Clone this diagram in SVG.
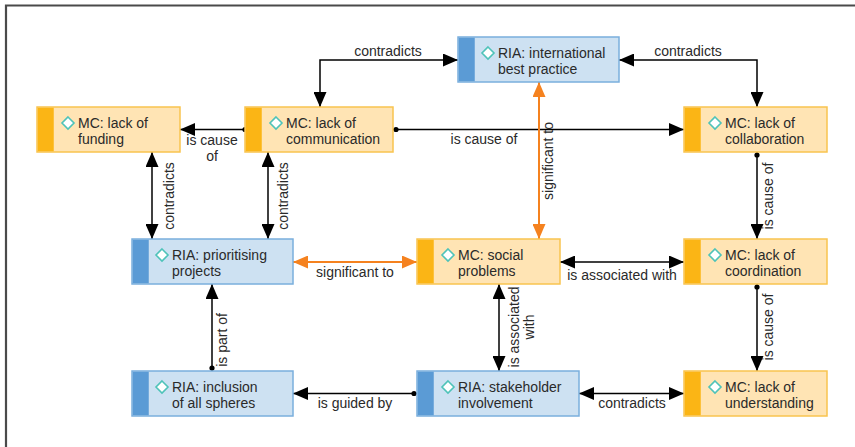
<svg xmlns="http://www.w3.org/2000/svg" width="855" height="447" viewBox="0 0 855 447">
  <style>
    text { font-family: "Liberation Sans", Arial, sans-serif; font-size: 14px; fill: #2a2a2a; }
    .lbl { text-anchor: middle; }
    .mc rect.body { fill: #ffe4b4; stroke: #f9c44f; stroke-width: 1.5; }
    .mc rect.bar { fill: #fbb515; }
    .ria rect.body { fill: #cde1f2; stroke: #7aafdd; stroke-width: 1.5; }
    .ria rect.bar { fill: #5b9bd5; }
    .icon { fill: #ffffff; stroke: #4fc3b9; stroke-width: 1.6; }
    .edge { fill: none; stroke: #000000; stroke-width: 1.5; }
    .sig { fill: none; stroke: #f5821f; stroke-width: 2; }
    .dot { fill: #000000; }
  </style>
  <defs>
    <marker id="arr" markerUnits="userSpaceOnUse" markerWidth="15" markerHeight="13" refX="15" refY="6.5" orient="auto-start-reverse">
      <path d="M0,0 L15,6.5 L0,13 z" fill="#000000"/>
    </marker>
    <marker id="arrO" markerUnits="userSpaceOnUse" markerWidth="15" markerHeight="13" refX="15" refY="6.5" orient="auto-start-reverse">
      <path d="M0,0 L15,6.5 L0,13 z" fill="#f5821f"/>
    </marker>
    <path id="dia" d="M0,-6 L6,0 L0,6 L-6,0 z"/>
  </defs>

  <rect width="855" height="447" fill="#ffffff"/>
  <!-- frame -->
  <path d="M6,447 V5.5 H855" fill="none" stroke="#4a4a4a" stroke-width="2.2"/>

  <!-- connectors -->
  <g id="connectors">
    <!-- contradicts: international best practice / communication -->
    <path class="edge" d="M320,107 V60 H458" marker-start="url(#arr)" marker-end="url(#arr)"/>
    <text class="lbl" x="388" y="56">contradicts</text>
    <!-- contradicts: international best practice / collaboration -->
    <path class="edge" d="M619,60 H757 V107" marker-start="url(#arr)" marker-end="url(#arr)"/>
    <text class="lbl" x="688" y="56">contradicts</text>
    <!-- communication is cause of funding -->
    <path class="edge" d="M245,129.5 H180" marker-end="url(#arr)"/>
    <circle class="dot" cx="245" cy="129.5" r="2.6"/>
    <text class="lbl" x="212" y="145">is cause</text>
    <text class="lbl" x="212" y="161">of</text>
    <!-- communication is cause of collaboration -->
    <path class="edge" d="M393,129.5 H684" marker-end="url(#arr)"/>
    <circle class="dot" cx="396" cy="129.5" r="2.6"/>
    <text class="lbl" x="484" y="144">is cause of</text>
    <!-- funding contradicts prioritising -->
    <path class="edge" d="M152,152 V239" marker-start="url(#arr)" marker-end="url(#arr)"/>
    <text class="lbl" transform="translate(174,196) rotate(-90)">contradicts</text>
    <!-- communication contradicts prioritising -->
    <path class="edge" d="M268,152 V239" marker-start="url(#arr)" marker-end="url(#arr)"/>
    <text class="lbl" transform="translate(288,196) rotate(-90)">contradicts</text>
    <!-- social problems significant to international best practice -->
    <path class="sig" d="M539,239 V82" marker-start="url(#arrO)" marker-end="url(#arrO)"/>
    <text class="lbl" transform="translate(553,161) rotate(-90)">significant to</text>
    <!-- prioritising significant to social problems -->
    <path class="sig" d="M293,262 H417" marker-start="url(#arrO)" marker-end="url(#arrO)"/>
    <text class="lbl" x="355" y="277">significant to</text>
    <!-- social problems is associated with coordination -->
    <path class="edge" d="M560,262 H684" marker-start="url(#arr)" marker-end="url(#arr)"/>
    <text class="lbl" x="622" y="280">is associated with</text>
    <!-- collaboration is cause of coordination -->
    <path class="edge" d="M757,152 V239" marker-end="url(#arr)"/>
    <circle class="dot" cx="757" cy="155" r="2.6"/>
    <text class="lbl" transform="translate(773,196) rotate(-90)">is cause of</text>
    <!-- coordination is cause of understanding -->
    <path class="edge" d="M757,284 V371" marker-end="url(#arr)"/>
    <circle class="dot" cx="757" cy="287" r="2.6"/>
    <text class="lbl" transform="translate(773,327) rotate(-90)">is cause of</text>
    <!-- social problems is associated with stakeholder involvement -->
    <path class="edge" d="M499,284 V371" marker-start="url(#arr)" marker-end="url(#arr)"/>
    <text class="lbl" transform="translate(519,327) rotate(-90)">is associated</text>
    <text class="lbl" transform="translate(534,327) rotate(-90)">with</text>
    <!-- stakeholder involvement contradicts understanding -->
    <path class="edge" d="M579,393.5 H684" marker-start="url(#arr)" marker-end="url(#arr)"/>
    <text class="lbl" x="632" y="408">contradicts</text>
    <!-- stakeholder involvement is guided by -> inclusion of all spheres -->
    <path class="edge" d="M417,393.5 H293" marker-end="url(#arr)"/>
    <circle class="dot" cx="414" cy="393.5" r="2.6"/>
    <text class="lbl" x="355" y="408">is guided by</text>
    <!-- inclusion of all spheres is part of prioritising -->
    <path class="edge" d="M212,371 V284" marker-end="url(#arr)"/>
    <circle class="dot" cx="212" cy="368" r="2.6"/>
    <text class="lbl" transform="translate(227,340) rotate(-90)">is part of</text>
  </g>

  <!-- nodes -->
  <g id="n-funding" class="mc" transform="translate(37,107)">
    <rect class="body" width="143" height="45"/>
    <rect class="bar" x="0.75" y="0.75" width="16" height="43.5"/>
    <use href="#dia" class="icon" x="31" y="16"/>
    <text x="41" y="21">MC: lack of</text>
    <text x="41" y="37">funding</text>
  </g>
  <g id="n-communication" class="mc" transform="translate(245,107)">
    <rect class="body" width="148" height="45"/>
    <rect class="bar" x="0.75" y="0.75" width="16" height="43.5"/>
    <use href="#dia" class="icon" x="31" y="16"/>
    <text x="41" y="21">MC: lack of</text>
    <text x="41" y="37">communication</text>
  </g>
  <g id="n-best-practice" class="ria" transform="translate(458,37)">
    <rect class="body" width="161" height="45"/>
    <rect class="bar" x="0.75" y="0.75" width="16" height="43.5"/>
    <use href="#dia" class="icon" x="30" y="16"/>
    <text x="40" y="21">RIA: international</text>
    <text x="40" y="37">best practice</text>
  </g>
  <g id="n-collaboration" class="mc" transform="translate(684,107)">
    <rect class="body" width="143" height="45"/>
    <rect class="bar" x="0.75" y="0.75" width="16" height="43.5"/>
    <use href="#dia" class="icon" x="31" y="16"/>
    <text x="41" y="21">MC: lack of</text>
    <text x="41" y="37">collaboration</text>
  </g>
  <g id="n-prioritising" class="ria" transform="translate(132,239)">
    <rect class="body" width="161" height="45"/>
    <rect class="bar" x="0.75" y="0.75" width="16" height="43.5"/>
    <use href="#dia" class="icon" x="30" y="16"/>
    <text x="40" y="21">RIA: prioritising</text>
    <text x="40" y="37">projects</text>
  </g>
  <g id="n-social" class="mc" transform="translate(417,239)">
    <rect class="body" width="143" height="45"/>
    <rect class="bar" x="0.75" y="0.75" width="16" height="43.5"/>
    <use href="#dia" class="icon" x="31" y="16"/>
    <text x="41" y="21">MC: social</text>
    <text x="41" y="37">problems</text>
  </g>
  <g id="n-coordination" class="mc" transform="translate(684,239)">
    <rect class="body" width="143" height="45"/>
    <rect class="bar" x="0.75" y="0.75" width="16" height="43.5"/>
    <use href="#dia" class="icon" x="31" y="16"/>
    <text x="41" y="21">MC: lack of</text>
    <text x="41" y="37">coordination</text>
  </g>
  <g id="n-inclusion" class="ria" transform="translate(132,371)">
    <rect class="body" width="161" height="45"/>
    <rect class="bar" x="0.75" y="0.75" width="16" height="43.5"/>
    <use href="#dia" class="icon" x="30" y="16"/>
    <text x="40" y="21">RIA: inclusion</text>
    <text x="40" y="37">of all spheres</text>
  </g>
  <g id="n-stakeholder" class="ria" transform="translate(417,371)">
    <rect class="body" width="162" height="45"/>
    <rect class="bar" x="0.75" y="0.75" width="16" height="43.5"/>
    <use href="#dia" class="icon" x="31" y="16"/>
    <text x="41" y="21">RIA: stakeholder</text>
    <text x="41" y="37">involvement</text>
  </g>
  <g id="n-understanding" class="mc" transform="translate(684,371)">
    <rect class="body" width="143" height="45"/>
    <rect class="bar" x="0.75" y="0.75" width="16" height="43.5"/>
    <use href="#dia" class="icon" x="31" y="16"/>
    <text x="41" y="21">MC: lack of</text>
    <text x="41" y="37">understanding</text>
  </g>
</svg>
